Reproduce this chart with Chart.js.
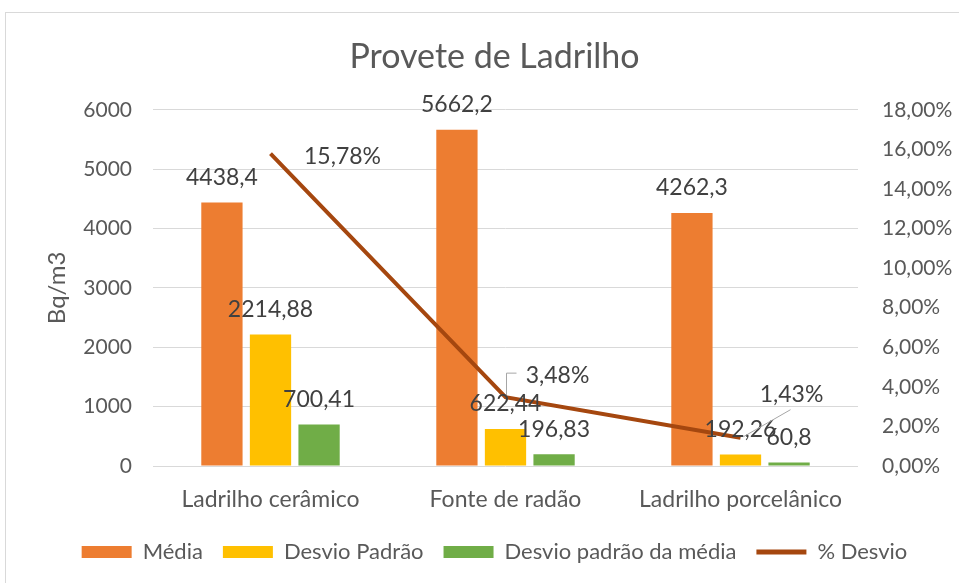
<!DOCTYPE html>
<html>
<head>
<meta charset="utf-8">
<script src="https://cdn.jsdelivr.net/npm/chart.js@4.4.1/dist/chart.umd.min.js"></script>
<style>
  html, body { margin:0; padding:0; background:#fff; overflow:hidden; }
  #wrap { position:absolute; left:0; top:0; width:959px; height:583px; }
  #frame { position:absolute; left:5px; top:12px; width:1000px; height:600px; border:1px solid #D9D9D9; pointer-events:none; }
</style>
</head>
<body>
<div id="frame"></div>
<div id="wrap"><canvas id="c" width="959" height="583"></canvas></div>
<script>
const categories = ['Ladrilho cerâmico', 'Fonte de radão', 'Ladrilho porcelânico'];
const media = [4438.4, 5662.2, 4262.3];
const desvioPadrao = [2214.88, 622.44, 192.26];
const desvioPadraoMedia = [700.41, 196.83, 60.8];
const pctDesvio = [15.78, 3.48, 1.43];
const leftTicks = [0, 1000, 2000, 3000, 4000, 5000, 6000];
const rightTicks = [0, 2, 4, 6, 8, 10, 12, 14, 16, 18];

const FONT = 'Lato, "Open Sans", sans-serif';
const fmtNum = v => String(v).replace('.', ',');
const fmtPct = v => v.toFixed(2).replace('.', ',') + '%';

// label offsets for the line labels (dx, dy of label centre from point) and leader paths
const lineLabelStyle = [
  { dx: 72, dy: 3, leader: null },
  { dx: 52, dy: -22, leader: [[1, -2], [1, -24], [11, -24]] },
  { dx: 51, dy: -43, leader: [[3, -1], [50, -28]] }
];

const labelPlugin = {
  id: 'dataLabels',
  afterDatasetsDraw(chart) {
    const ctx = chart.ctx;
    ctx.save();
    ctx.font = '23px ' + FONT;
    ctx.fillStyle = '#404040';
    ctx.textAlign = 'center';
    ctx.textBaseline = 'middle';
    [0, 1, 2].forEach(di => {
      const meta = chart.getDatasetMeta(di);
      const ds = chart.data.datasets[di];
      meta.data.forEach((bar, i) => {
        ctx.fillText(fmtNum(ds.data[i]), bar.x, bar.y - 25);
      });
    });
    const lm = chart.getDatasetMeta(3);
    const lds = chart.data.datasets[3];
    lm.data.forEach((pt, i) => {
      const st = lineLabelStyle[i];
      if (st.leader) {
        ctx.strokeStyle = '#A6A6A6';
        ctx.lineWidth = 1;
        ctx.beginPath();
        st.leader.forEach((p, k) => {
          if (k === 0) ctx.moveTo(pt.x + p[0], pt.y + p[1]);
          else ctx.lineTo(pt.x + p[0], pt.y + p[1]);
        });
        ctx.stroke();
      }
      ctx.fillText(fmtPct(lds.data[i]), pt.x + st.dx, pt.y + st.dy);
    });
    ctx.restore();
  }
};

new Chart(document.getElementById('c'), {
  type: 'bar',
  data: {
    labels: categories,
    datasets: [
      { label: 'Média', data: media, backgroundColor: '#ED7D31', borderWidth: 0, yAxisID: 'y', order: 1, categoryPercentage: 0.62, barPercentage: 0.85 },
      { label: 'Desvio Padrão', data: desvioPadrao, backgroundColor: '#FFC000', borderWidth: 0, yAxisID: 'y', order: 1, categoryPercentage: 0.62, barPercentage: 0.85 },
      { label: 'Desvio padrão da média', data: desvioPadraoMedia, backgroundColor: '#70AD47', borderWidth: 0, yAxisID: 'y', order: 1, categoryPercentage: 0.62, barPercentage: 0.85 },
      { type: 'line', label: '% Desvio', data: pctDesvio, borderColor: '#A5470F', backgroundColor: '#A5470F', borderWidth: 4, pointRadius: 0, tension: 0, yAxisID: 'y2', order: 0 }
    ]
  },
  options: {
    responsive: false,
    animation: false,
    layout: { padding: { left: 30, right: 0, top: 0, bottom: 10 } },
    plugins: {
      tooltip: { enabled: false },
      title: {
        display: true, text: 'Provete de Ladrilho', color: '#595959',
        font: { family: FONT, size: 34, weight: 'normal' },
        padding: { top: 37, bottom: 32 }
      },
      legend: {
        position: 'bottom',
        labels: {
          color: '#595959',
          font: { family: FONT, size: 22 },
          usePointStyle: true,
          pointStyleWidth: 50,
          boxHeight: 12,
          padding: 20,
          sort: (a, b) => a.datasetIndex - b.datasetIndex,
          generateLabels: (chart) => {
            const items = Chart.defaults.plugins.legend.labels.generateLabels(chart);
            items.forEach(it => {
              if (it.datasetIndex === 3) { it.pointStyle = 'line'; it.lineWidth = 5; it.strokeStyle = '#A5470F'; }
              else { it.pointStyle = 'rect'; it.lineWidth = 0; }
            });
            return items;
          }
        }
      }
    },
    scales: {
      x: {
        grid: { display: false },
        border: { display: false },
        ticks: { color: '#595959', font: { family: FONT, size: 23 }, padding: 12 },
        afterFit: s => { s.height = 55; }
      },
      y: {
        position: 'left', min: 0, max: 6000,
        afterBuildTicks: s => { s.ticks = leftTicks.map(v => ({ value: v })); },
        grid: { color: '#D9D9D9', lineWidth: 1, drawTicks: false },
        border: { display: false },
        ticks: { color: '#595959', font: { family: FONT, size: 21 }, padding: 21, callback: v => String(v) },
        title: { display: true, text: 'Bq/m3', color: '#595959', font: { family: FONT, size: 24 }, padding: { top: 13, bottom: 0 } },
        afterFit: s => { s.width = 123; }
      },
      y2: {
        position: 'right', min: 0, max: 18,
        afterBuildTicks: s => { s.ticks = rightTicks.map(v => ({ value: v })); },
        grid: { display: false, drawTicks: false },
        border: { display: false },
        ticks: { color: '#595959', font: { family: FONT, size: 21 }, padding: 24, callback: v => fmtPct(v) },
        afterFit: s => { s.width = 101; }
      }
    }
  },
  plugins: [labelPlugin]
});
</script>
</body>
</html>
